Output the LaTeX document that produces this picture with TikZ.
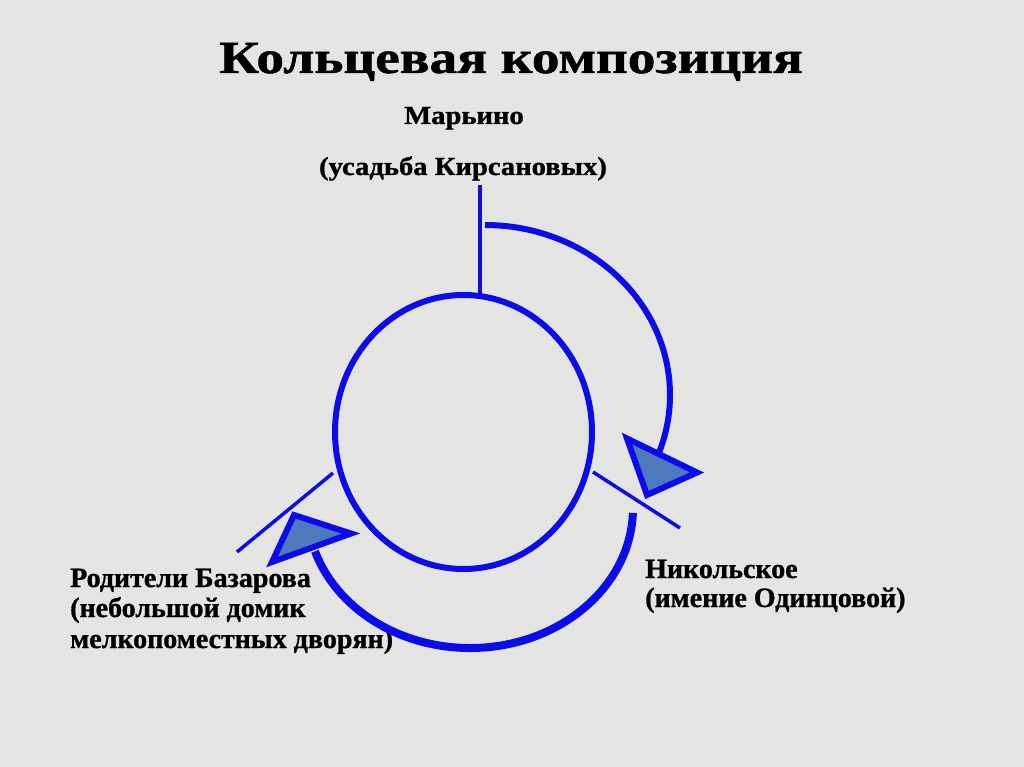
\documentclass[tikz,border=0pt]{standalone}
\usepackage{fontspec}
\setmainfont{Liberation Serif}[BoldFeatures={FakeBold=1}]
\definecolor{bg}{RGB}{228,228,226}
\definecolor{ringblue}{RGB}{12,12,235}
\definecolor{headfill}{RGB}{78,122,188}
\begin{document}
\begin{tikzpicture}[x=1pt,y=-1pt,
  lbl/.style={inner sep=0pt,font=\bfseries\fontsize{28}{30}\selectfont},
  toplbl/.style={inner sep=0pt,font=\bfseries\fontsize{26}{28}\selectfont},
  ring/.style={draw=ringblue,line width=6pt},
  route/.style={draw=ringblue},
  tick/.style={draw=ringblue,line width=3.5pt},
  headtri/.style={draw=ringblue,line width=6pt,fill=headfill,line join=miter}]
\fill[bg] (0,0) rectangle (1024,767);
\useasboundingbox (0,0) rectangle (1024,767);
% title and labels
\node[inner sep=0pt,anchor=base,font=\bfseries\fontsize{46}{50}\selectfont] (title) at (511,73) {\scalebox{1.2}[1]{Кольцевая композиция}};
\node[toplbl,anchor=base] (mar1) at (464,124) {\scalebox{1.1}[1]{Марьино}};
\node[toplbl,anchor=base] (mar2) at (463,175) {\scalebox{1.1}[1]{(усадьба Кирсановых)}};
\node[lbl,anchor=base west] (baz1) at (70,587) {Родители Базарова};
\node[lbl,anchor=base west] (baz2) at (70,617) {(небольшой домик};
\node[lbl,anchor=base west] (baz3) at (70,648) {мелкопоместных дворян)};
\node[lbl,anchor=base west] (nik1) at (645,578) {Никольское};
\node[lbl,anchor=base west] (nik2) at (645,607) {(имение Одинцовой)};
% ring
\coordinate (c) at (463.5,432);
\draw[ring] (c) ellipse [x radius=128.5, y radius=137];
% Marino marker
\coordinate (mtop) at (480,185);
\coordinate (mbot) at (480,295);
\draw[route,line width=4pt] (mtop) -- (mbot);
% arcs
\coordinate (a1) at (485,225);
\draw[route,line width=6pt] (a1) arc[start angle=-90, end angle=20, x radius=185, y radius=170];
\coordinate (a2) at (632.9,512.9);
\draw[route,line width=8pt] (a2) arc[start angle=2, end angle=162, x radius=163, y radius=140];
% ticks
\coordinate (t1a) at (593,472);
\coordinate (t1b) at (680,528);
\draw[tick] (t1a) -- (t1b);
\coordinate (t2a) at (333,473);
\coordinate (t2b) at (237,552);
\draw[tick] (t2a) -- (t2b);
% arrow heads
\coordinate (h1a) at (627,438.5);
\coordinate (h1b) at (697,472.5);
\coordinate (h1c) at (647,495);
\draw[headtri] (h1a) -- (h1b) -- (h1c) -- cycle;
\coordinate (h2a) at (294,515);
\coordinate (h2b) at (351,533.5);
\coordinate (h2c) at (272,562);
\draw[headtri] (h2a) -- (h2b) -- (h2c) -- cycle;
\end{tikzpicture}
\end{document}
